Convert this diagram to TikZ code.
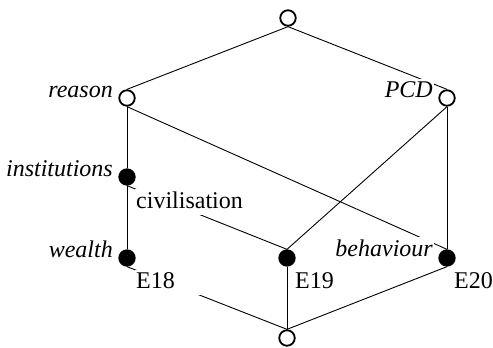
\documentclass[tikz,border=0pt]{standalone}
\usepackage{fontspec}
\setmainfont{Liberation Serif}
\newfontfamily\labfont{Liberation Serif}
\newcommand{\labstrut}{\rule[-4.5pt]{0pt}{21pt}}
\pgfdeclarelayer{edgelayer}
\pgfdeclarelayer{labellayer}
\pgfsetlayers{edgelayer,labellayer,main}
\tikzset{
  concept/.style={circle, draw=black, line width=1.8pt, inner sep=0pt, minimum size=15.5pt},
  opencon/.style={concept, fill=white},
  fullcon/.style={concept, fill=black},
  edge/.style={draw=black, line width=0.9pt},
  lab/.style={fill=white, inner xsep=1pt, inner ysep=2pt, font=\labfont\fontsize{24}{29}\selectfont},
  itlab/.style={lab, anchor=base east, font=\labfont\fontsize{24}{29}\selectfont\itshape},
  uplab/.style={lab, anchor=base west}
}
\begin{document}
\begin{tikzpicture}[x=1pt,y=-1pt]
\useasboundingbox (0,0) rectangle (493,348);
\node[opencon] (top) at (288,18) {};
\node[opencon] (reason) at (127,98) {};
\node[opencon] (pcd) at (447,98) {};
\node[fullcon] (inst) at (127,177) {};
\node[fullcon] (wealth) at (127,258) {};
\node[fullcon] (e19) at (287,258) {};
\node[fullcon] (e20) at (447,258) {};
\node[opencon] (bot) at (287,338) {};
\begin{pgfonlayer}{edgelayer}
\draw[edge] (top.south) -- (reason.north);
\draw[edge] (top.south) -- (pcd.north);
\draw[edge] (reason.south) -- (inst.north);
\draw[edge] (inst.south) -- (wealth.north);
\draw[edge] (reason.south) -- (e20.north);
\draw[edge] (pcd.south) -- (e19.north);
\draw[edge] (pcd.south) -- (e20.north);
\draw[edge] (inst.south) -- (e19.north);
\draw[edge] (wealth.south) -- (bot.north);
\draw[edge] (e19.south) -- (bot.north);
\draw[edge] (e20.south) -- (bot.north);
\end{pgfonlayer}
\begin{pgfonlayer}{labellayer}
\node[itlab] (lreason) at ([xshift=-13pt,yshift=1pt]reason.center) {reason\labstrut};
\node[itlab] (lpcd) at ([xshift=-13pt,yshift=1pt]pcd.center) {PCD\labstrut};
\node[itlab] (linst) at ([xshift=-13pt,yshift=1pt]inst.center) {institutions\labstrut};
\node[itlab] (lwealth) at ([xshift=-13pt,yshift=1pt]wealth.center) {wealth\labstrut};
\node[itlab] (lbeh) at ([xshift=-13pt,yshift=2pt]e20.center) {behaviour\labstrut};
\node[uplab] (lciv) at ([xshift=8pt,yshift=-31pt]inst.center) {civilisation\labstrut};
\node[uplab] (le18) at ([xshift=8pt,yshift=-30pt]wealth.center) {E18\labstrut\rule{26pt}{0pt}};
\node[uplab] (le19) at ([xshift=7pt,yshift=-30pt]e19.center) {E19\labstrut};
\node[uplab] (le20) at ([xshift=6pt,yshift=-30pt]e20.center) {E20\labstrut};
\end{pgfonlayer}
\end{tikzpicture}
\end{document}
